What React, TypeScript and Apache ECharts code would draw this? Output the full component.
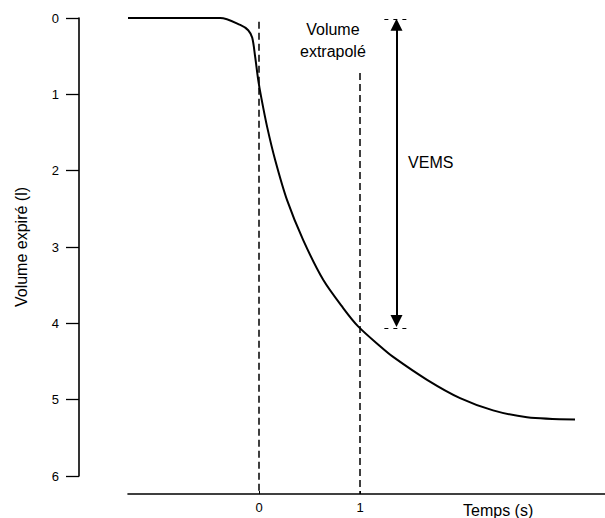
import React, { useEffect, useRef } from "react";
import * as echarts from "echarts";

// Spirogram data: time (s) vs expired volume (l)
const timeS = [-1.3, -0.386, -0.188, -0.109, -0.069, -0.04, -0.01, 0.02, 0.079, 0.158, 0.277, 0.436, 0.634, 0.832, 0.98, 1.198, 1.327, 1.663, 1.99, 2.317, 2.653, 3.129];
const volumeL = [0, 0, 0.09, 0.16, 0.26, 0.51, 0.81, 1.04, 1.43, 1.86, 2.39, 2.91, 3.43, 3.8, 4.04, 4.3, 4.44, 4.74, 4.98, 5.14, 5.23, 5.26];
const xTickValues = [0, 1];
const yMin = 0;
const yMax = 6;
const yInterval = 1;
const plotBottomValue = 6.236; // value at the level of the time axis
const vemsTime = 1.36;
const vemsTop = 0;
const vemsBottom = 4.06;
const FONT = "Liberation Sans, Arial, Helvetica, sans-serif";

export default function App() {
  const ref = useRef<HTMLDivElement>(null);
  useEffect(() => {
    document.body.style.margin = "0";
    const chart = echarts.init(ref.current!, null, { renderer: "svg" });
    const curve = timeS.map((t, i) => [t, volumeL[i]]);
    chart.setOption({
      animation: false,
      backgroundColor: "#fff",
      textStyle: { fontFamily: FONT, color: "#000" },
      grid: [
        { left: 128, right: 0, top: 18, bottom: 24 },
        { left: 128, right: 0, top: 18, bottom: 42 },
      ],
      xAxis: [
        {
          gridIndex: 0,
          type: "value",
          min: -1.3,
          max: 3.426,
          splitLine: { show: false },
          axisLine: { show: true, onZero: false, lineStyle: { color: "#000", width: 1.6 } },
          axisTick: { show: true, inside: true, length: 3, customValues: xTickValues, lineStyle: { color: "#000" } },
          axisLabel: { show: true, customValues: xTickValues, margin: 7, fontSize: 13, color: "#000", fontFamily: FONT },
        },
        {
          gridIndex: 1,
          type: "value",
          min: -1.3,
          max: 3.426,
          show: false,
        },
      ],
      yAxis: [
        {
          gridIndex: 0,
          type: "value",
          inverse: true,
          min: yMin,
          max: plotBottomValue,
          show: false,
        },
        {
          gridIndex: 1,
          type: "value",
          inverse: true,
          min: yMin,
          max: yMax,
          interval: yInterval,
          offset: 49,
          splitLine: { show: false },
          axisLine: { show: true, onZero: false, lineStyle: { color: "#000", width: 1.6 } },
          axisTick: { show: true, inside: false, length: 13, lineStyle: { color: "#000", width: 1.3 } },
          axisLabel: { margin: 20, fontSize: 13, color: "#000", fontFamily: FONT },
          name: "Volume expiré (l)",
          nameLocation: "middle",
          nameGap: 50,
          nameTextStyle: { fontSize: 16, color: "#000", fontFamily: FONT },
        },
      ],
      series: [
        {
          type: "line",
          xAxisIndex: 0,
          yAxisIndex: 0,
          data: curve,
          smooth: 0.3,
          showSymbol: false,
          clip: false,
          lineStyle: { color: "#000", width: 2 },
          markLine: {
            silent: true,
            symbol: ["none", "none"],
            label: { show: false },
            lineStyle: { color: "#000", width: 1.5, type: [7, 4] },
            data: [
              [{ coord: [0, 0.05] }, { coord: [0, plotBottomValue] }],
              [{ coord: [1, 0.72] }, { coord: [1, plotBottomValue] }],
            ],
          },
          markPoint: {
            silent: true,
            symbol: "circle",
            symbolSize: 0,
            data: [
              {
                coord: [0.73, 0.3],
                label: {
                  show: true,
                  position: "inside",
                  formatter: "Volume\nextrapolé",
                  fontSize: 16,
                  lineHeight: 22,
                  align: "center",
                  color: "#000",
                  fontFamily: FONT,
                },
              },
              {
                coord: [1.475, 1.89],
                label: {
                  show: true,
                  position: "inside",
                  formatter: "VEMS",
                  fontSize: 16,
                  align: "left",
                  color: "#000",
                  fontFamily: FONT,
                },
              },
            ],
          },
        },
        {
          type: "line",
          xAxisIndex: 0,
          yAxisIndex: 0,
          data: [],
          clip: false,
          markLine: {
            silent: true,
            symbol: ["triangle", "triangle"],
            symbolSize: 12,
            label: { show: false },
            lineStyle: { color: "#000", width: 2, type: "solid" },
            data: [[{ coord: [vemsTime, vemsTop + 0.09] }, { coord: [vemsTime, vemsBottom - 0.09] }]],
          },
        },
        {
          type: "line",
          xAxisIndex: 0,
          yAxisIndex: 0,
          data: [],
          clip: false,
          markLine: {
            silent: true,
            symbol: ["none", "none"],
            label: { show: false },
            lineStyle: { color: "#000", width: 1, type: [4, 5] },
            data: [
              [{ coord: [vemsTime - 0.12, vemsTop + 0.02] }, { coord: [vemsTime + 0.13, vemsTop + 0.02] }],
              [{ coord: [vemsTime - 0.12, vemsBottom] }, { coord: [vemsTime + 0.12, vemsBottom] }],
            ],
          },
        },
      ],
      graphic: [
        {
          type: "text",
          left: 463,
          top: 502,
          style: { text: "Temps (s)", fontSize: 16, fill: "#000", fontFamily: FONT },
        },
      ],
    });
    return () => chart.dispose();
  }, []);
  return <div ref={ref} style={{ width: 605, height: 518 }} />;
}
